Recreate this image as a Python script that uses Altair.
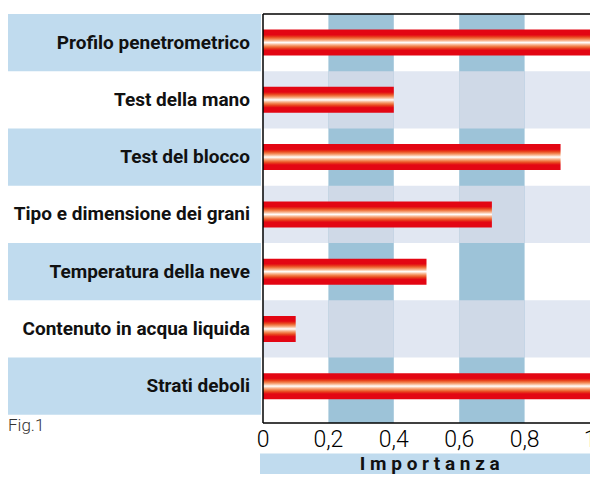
import altair as alt
import pandas as pd

labels = [
    "Profilo penetrometrico",
    "Test della mano",
    "Test del blocco",
    "Tipo e dimensione dei grani",
    "Temperatura della neve",
    "Contenuto in acqua liquida",
    "Strati deboli",
]
values = [1.0, 0.4, 0.91, 0.7, 0.5, 0.1, 1.0]
tick_values = [0, 0.2, 0.4, 0.6, 0.8, 1]
col_band_start = [0.2, 0.6]
col_band_end = [0.4, 0.8]
axis_title = "Importanza"
fig_label = "Fig.1"

# ---------- layout (pixels inside the chart) ----------
W, H = 582, 471
PLOT_X0, PLOT_X1 = 255, 582       # x=0 and x=1 of the value scale
PLOT_Y0, ROW_PX = 1, 58.5         # top of the plot, height of one row
PLOT_Y1 = 419                     # bottom of the plot frame

def xd(px):   # pixel -> value-scale units
    return (px - PLOT_X0) / (PLOT_X1 - PLOT_X0)

def yd(px):   # pixel -> row units
    return -0.5 + (px - PLOT_Y0) / ROW_PX

X_MIN, X_MAX = xd(0), xd(W)
Y_MIN, Y_MAX = yd(0), yd(H)
Y_PLOT_TOP, Y_PLOT_BOT = -0.5, yd(PLOT_Y1)
Y_TICKS = yd(PLOT_Y1 + 17)
Y_FIG = yd(PLOT_Y1 + 3)
Y_BAND0, Y_BAND1 = yd(PLOT_Y1 + 31), yd(H)
Y_TITLE = yd((PLOT_Y1 + 31 + H) / 2)
X_LABEL_BAND1 = xd(253)
X_LABEL_TEXT = xd(242)
X_TITLE_BAND0 = xd(252)

xs = alt.Scale(domain=[X_MIN, X_MAX], nice=False, zero=False)
ys = alt.Scale(domain=[Y_MIN, Y_MAX], reverse=True, nice=False, zero=False)

def X(field=None, **kw):
    if field is None:
        return alt.X(type="quantitative", scale=xs, axis=None, **kw)
    return alt.X(field, type="quantitative", scale=xs, axis=None)

def Y(field=None, **kw):
    if field is None:
        return alt.Y(type="quantitative", scale=ys, axis=None, **kw)
    return alt.Y(field, type="quantitative", scale=ys, axis=None)

df = pd.DataFrame({"label": labels, "value": values, "row": list(range(len(labels)))})
cols = pd.DataFrame({"start": col_band_start, "end": col_band_end})
odd_rows = df[df.row % 2 == 1][["row"]]
even_rows = df[df.row % 2 == 0][["row"]]
cells = odd_rows.merge(cols, how="cross")
ticks_df = pd.DataFrame({"v": tick_values})
one = pd.DataFrame({"t": [" ".join(axis_title)], "f": [fig_label]})

FONT = "Roboto"
LBLUE = "#c0dbee"

gradient = alt.Gradient(
    gradient="linear", x1=0, y1=0, x2=0, y2=1,
    stops=[
        alt.GradientStop(offset=0.0, color="#e30613"),
        alt.GradientStop(offset=0.2, color="#e30613"),
        alt.GradientStop(offset=0.28, color="#e8401c"),
        alt.GradientStop(offset=0.35, color="#f07a45"),
        alt.GradientStop(offset=0.42, color="#f8b48e"),
        alt.GradientStop(offset=0.47, color="#fde3d4"),
        alt.GradientStop(offset=0.5, color="#ffffff"),
        alt.GradientStop(offset=0.53, color="#fde3d4"),
        alt.GradientStop(offset=0.58, color="#f8b48e"),
        alt.GradientStop(offset=0.65, color="#f07a45"),
        alt.GradientStop(offset=0.72, color="#e8401c"),
        alt.GradientStop(offset=0.8, color="#e30613"),
        alt.GradientStop(offset=1.0, color="#e30613"),
    ],
)

row_calc = dict(y0="datum.row - 0.5", y1="datum.row + 0.5")

label_bands = alt.Chart(even_rows).transform_calculate(**row_calc).mark_rect(color=LBLUE).encode(
    x=X(datum=X_MIN), x2=alt.X2(datum=X_LABEL_BAND1), y=Y("y0"), y2="y1:Q"
)
label_text = alt.Chart(df).mark_text(
    align="right", baseline="middle", font=FONT, fontWeight="bold", fontSize=19, color="#111111"
).encode(x=X(datum=X_LABEL_TEXT), y=Y("row"), text="label:N")

row_bands = alt.Chart(odd_rows).transform_calculate(**row_calc).mark_rect(color="#e1e7f2").encode(
    x=X(datum=0), x2=alt.X2(datum=1), y=Y("y0"), y2="y1:Q"
)
col_bands = alt.Chart(cols).mark_rect(color="#9dc3d8").encode(
    x=X("start"), x2="end:Q", y=Y(datum=Y_PLOT_TOP), y2=alt.Y2(datum=Y_PLOT_BOT)
)
cell_bands = alt.Chart(cells).transform_calculate(**row_calc).mark_rect(color="#cfd9e7").encode(
    x=X("start"), x2="end:Q", y=Y("y0"), y2="y1:Q"
)
bars = alt.Chart(df).mark_bar(orient="horizontal", size=26, color=gradient).encode(
    x=X("value"), x2=alt.X2(datum=0), y=Y("row")
)
frame_left = alt.Chart(one).mark_rule(color="black", strokeWidth=1.5).encode(
    x=X(datum=0), y=Y(datum=Y_PLOT_TOP), y2=alt.Y2(datum=Y_PLOT_BOT)
)
frame_top = alt.Chart(one).mark_rule(color="black", strokeWidth=1.5).encode(
    x=X(datum=0), x2=alt.X2(datum=1), y=Y(datum=Y_PLOT_TOP)
)
frame_bot = alt.Chart(one).mark_rule(color="black", strokeWidth=1.5).encode(
    x=X(datum=0), x2=alt.X2(datum=1), y=Y(datum=Y_PLOT_BOT)
)
tick_labels = alt.Chart(ticks_df).transform_calculate(
    lab="replace(format(datum.v, '~g'), '.', ',')"
).mark_text(
    align="center", baseline="middle", font=FONT, fontWeight=300, fontSize=23, color="#000000"
).encode(x=X("v"), y=Y(datum=Y_TICKS), text="lab:N")
title_band = alt.Chart(one).mark_rect(color=LBLUE).encode(
    x=X(datum=X_TITLE_BAND0), x2=alt.X2(datum=X_MAX), y=Y(datum=Y_BAND0), y2=alt.Y2(datum=Y_BAND1)
)
title_text = alt.Chart(one).mark_text(
    align="center", baseline="middle", font=FONT, fontWeight="bold", fontSize=19, color="#111111"
).encode(x=X(datum=0.51), y=Y(datum=Y_TITLE), text="t:N")
fig_text = alt.Chart(one).mark_text(
    align="left", baseline="middle", font=FONT, fontWeight=300, fontSize=17, color="#333333"
).encode(x=X(datum=X_MIN), y=Y(datum=Y_FIG), text="f:N")

chart = alt.layer(
    label_bands, label_text, row_bands, col_bands, cell_bands, bars,
    frame_left, frame_top, frame_bot, tick_labels, title_band, title_text, fig_text,
).properties(
    width=W, height=H, padding=0,
    autosize=alt.AutoSizeParams(type="none"),
).configure(
    background="white",
    view=alt.ViewConfig(stroke="transparent", strokeWidth=0),
)

chart.save("out.html", embed_options={"renderer": "svg", "actions": False})
